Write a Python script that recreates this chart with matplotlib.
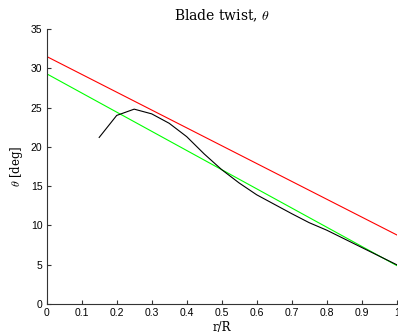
import numpy as np
import matplotlib
matplotlib.use('Agg')
import matplotlib.pyplot as plt

# Data
r_lin = [0.0, 1.0]
theta_red = [31.5, 8.8]
theta_green = [29.3, 4.9]

r_bem = [0.15, 0.2, 0.25, 0.3, 0.35, 0.4, 0.45, 0.5, 0.55, 0.6,
         0.65, 0.7, 0.75, 0.8, 0.85, 0.9, 0.95, 1.0]
theta_bem = [21.2, 24.0, 24.8, 24.2, 23.0, 21.3, 19.1, 17.1, 15.4, 13.9,
             12.7, 11.5, 10.35, 9.4, 8.3, 7.2, 6.1, 5.0]

xticks = np.arange(0, 1.01, 0.1)
yticks = np.arange(0, 36, 5)

plt.rcParams['mathtext.fontset'] = 'cm'

fig = plt.figure(figsize=(3.98, 3.36), dpi=100)
ax = fig.add_axes([0.1173, 0.0952, 0.8794, 0.8185])

ax.plot(r_lin, theta_red, color='#ff0000', lw=0.8)
ax.plot(r_lin, theta_green, color='#00ff00', lw=0.8)
ax.plot(r_bem, theta_bem, color='black', lw=0.8)

ax.set_xlim(0, 1)
ax.set_ylim(0, 35)
ax.set_xticks(xticks)
ax.set_xticklabels(['0', '0.1', '0.2', '0.3', '0.4', '0.5', '0.6', '0.7', '0.8', '0.9', '1'])
ax.set_yticks(yticks)

for s in ['top', 'right']:
    ax.spines[s].set_visible(False)
for s in ['left', 'bottom']:
    ax.spines[s].set_linewidth(0.8)
    ax.spines[s].set_color('#333333')

ax.tick_params(direction='in', length=3, width=0.8, labelsize=7.5, pad=3,
               colors='#333333', labelcolor='black')
for lab in ax.get_xticklabels() + ax.get_yticklabels():
    lab.set_fontfamily('Liberation Sans')

ax.set_title(r'Blade twist, $\theta$', fontfamily='DejaVu Serif', fontsize=10, pad=6)
ax.set_xlabel('r/R', fontfamily='DejaVu Serif', fontsize=8.5, labelpad=2)
ax.set_ylabel(r'$\theta$ [deg]', fontfamily='DejaVu Serif', fontsize=8.5, labelpad=4)

plt.savefig('out.png', dpi=100)
